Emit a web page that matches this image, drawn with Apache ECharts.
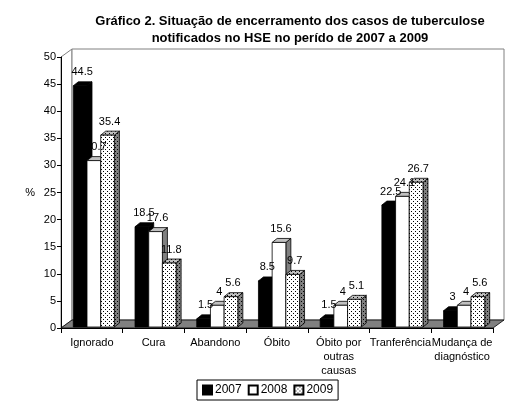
<!DOCTYPE html>
<html>
<head>
<meta charset="utf-8">
<script src="https://cdn.jsdelivr.net/npm/echarts@6/dist/echarts.min.js"></script>
<style>
    html, body { margin: 0; padding: 0; background: #fff; }
    #chart { width: 523px; height: 414px; }
</style>
</head>
<body>
<div id="chart"></div>
<script>
// ================* DATA *
var categories = ['Ignorado', 'Cura', 'Abandono', 'Óbito', 'Óbito por\noutras\ncausas', 'Tranferência', 'Mudança de\ndiagnóstico'];
var years = ['2007', '2008', '2009'];
var data2007 = [44.5, 18.5, 1.5, 8.5, 1.5, 22.5, 3];
var data2008 = [30.7, 17.6, 4, 15.6, 4, 24.1, 4];
var data2009 = [35.4, 11.8, 5.6, 9.7, 5.1, 26.7, 5.6];
var yTicks = [0, 50, 5];   // min, max, interval

// pontilhado do 2009
function dotPattern(bg) {
    var c = document.createElement('canvas');
    c.width = 4;
    c.height = 4;
    var ctx = c.getContext('2d');
    ctx.fillStyle = bg;
    ctx.fillRect(0, 0, 4, 4);
    ctx.fillStyle = '#000';
    ctx.fillRect(1, 1, 1, 1);
    ctx.fillRect(3, 3, 1, 1);
    return c;
}
var dots = { image: dotPattern('#fff'), repeat: 'repeat' };
var dotsGray = { image: dotPattern('#c0c0c0'), repeat: 'repeat' };
var dotsDark = { image: dotPattern('#808080'), repeat: 'repeat' };

var faces = [
    { front: '#000', top: '#000', side: '#000' },
    { front: '#fff', top: '#c0c0c0', side: '#808080' },
    { front: dots, top: dotsGray, side: dotsDark }
];

// profundidade da barra
var DX = 5, DY = 4;

function renderBar(params, api) {
    var cat = api.value(0);
    var val = api.value(1);
    var base = api.coord([cat, 0]);
    var top = api.coord([cat, val]);
    var bw = api.size([1, 0])[0] * 0.222;
    var si = params.seriesIndex - 1;
    var x = base[0] + (si - 1) * bw - bw / 2 + 2;
    var yb = base[1] - 1;
    var yt = top[1] - 1;
    var f = faces[si];
    var line = { stroke: '#000', lineWidth: 0.8 };
    return {
        type: 'group',
        children: [
            {
                type: 'polygon',
                shape: { points: [[x + bw, yt], [x + bw + DX, yt - DY], [x + bw + DX, yb - DY], [x + bw, yb]] },
                style: Object.assign({ fill: f.side }, line)
            },
            {
                type: 'polygon',
                shape: { points: [[x, yt], [x + DX, yt - DY], [x + bw + DX, yt - DY], [x + bw, yt]] },
                style: Object.assign({ fill: f.top }, line)
            },
            {
                type: 'rect',
                shape: { x: x, y: yt, width: bw, height: yb - yt },
                style: Object.assign({ fill: f.front }, line)
            },
            {
                type: 'text',
                z2: 100,
                x: x + bw / 2 + 2,
                y: yt - 8,
                style: {
                    text: String(val),
                    fill: '#000',
                    font: '11px "Liberation Sans", Arial, sans-serif',
                    align: 'center',
                    verticalAlign: 'bottom'
                }
            }
        ]
    };
}

// paredes e piso 3D
function renderWalls(params, api) {
    var cs = params.coordSys;
    var x = cs.x, y = cs.y, w = cs.width, h = cs.height;
    var dx = 11, dy = 8;
    return {
        type: 'group',
        children: [
            {
                type: 'polygon',
                shape: { points: [[x, y], [x + dx, y - dy], [x + dx, y + h - dy], [x, y + h]] },
                style: { fill: '#fff', stroke: '#808080', lineWidth: 1 }
            },
            {
                type: 'rect',
                shape: { x: x + dx, y: y - dy, width: w, height: h },
                style: { fill: '#fff', stroke: '#808080', lineWidth: 1 }
            },
            {
                type: 'polygon',
                shape: { points: [[x, y + h], [x + w, y + h], [x + w + dx, y + h - dy], [x + dx, y + h - dy]] },
                style: { fill: '#808080', stroke: '#000', lineWidth: 0.8 }
            }
        ]
    };
}

function toItems(arr) {
    return arr.map(function (v, i) { return [i, v]; });
}

var chart = echarts.init(document.getElementById('chart'));
var font = '"Liberation Sans", Arial, sans-serif';

var option = {
    animation: false,
    textStyle: { fontFamily: font },
    title: {
        text: 'Gráfico 2. Situação de encerramento dos casos de tuberculose\nnotificados no HSE no perído de 2007 a 2009',
        left: 285,
        textAlign: 'center',
        top: 8,
        textStyle: { fontSize: 13, fontWeight: 'bold', color: '#000', lineHeight: 17, fontFamily: font }
    },
    legend: {
        data: years,
        left: 197,
        top: 380,
        icon: 'rect',
        itemWidth: 9,
        itemHeight: 9,
        itemGap: 6,
        padding: [4, 5],
        borderColor: '#000',
        borderWidth: 1,
        textStyle: { fontSize: 12, color: '#000', padding: [0, 0, 0, -2] }
    },
    grid: {
        left: 61,
        right: 30,
        top: 57,
        bottom: 86
    },
    xAxis: {
        type: 'category',
        data: categories,
        z: 10,
        axisLine: { lineStyle: { color: '#000', width: 1 } },
        axisTick: { show: true, alignWithLabel: false, length: 5, lineStyle: { color: '#000' } },
        axisLabel: { color: '#000', fontSize: 11, margin: 8, lineHeight: 14, interval: 0 },
        splitLine: { show: false }
    },
    yAxis: {
        type: 'value',
        name: '%',
        nameLocation: 'middle',
        nameRotate: 0,
        nameGap: 26,
        nameTextStyle: { color: '#000', fontSize: 11 },
        min: yTicks[0],
        max: yTicks[1],
        interval: yTicks[2],
        z: 10,
        axisLine: { show: true, lineStyle: { color: '#000', width: 1 } },
        axisTick: { show: true, length: 4, lineStyle: { color: '#000' } },
        axisLabel: { color: '#000', fontSize: 11, margin: 5 },
        splitLine: { show: false }
    },
    series: [
        {
            type: 'custom',
            name: 'walls',
            z: 0,
            silent: true,
            renderItem: renderWalls,
            data: [[0, 0]]
        },
        {
            type: 'custom',
            name: years[0],
            renderItem: renderBar,
            itemStyle: { color: '#000', borderColor: '#000', borderWidth: 1 },
            data: toItems(data2007)
        },
        {
            type: 'custom',
            name: years[1],
            renderItem: renderBar,
            itemStyle: { color: '#fff', borderColor: '#000', borderWidth: 1 },
            data: toItems(data2008)
        },
        {
            type: 'custom',
            name: years[2],
            renderItem: renderBar,
            itemStyle: { color: dots, borderColor: '#000', borderWidth: 1 },
            data: toItems(data2009)
        }
    ]
};
chart.setOption(option);
</script>
</body>
</html>
